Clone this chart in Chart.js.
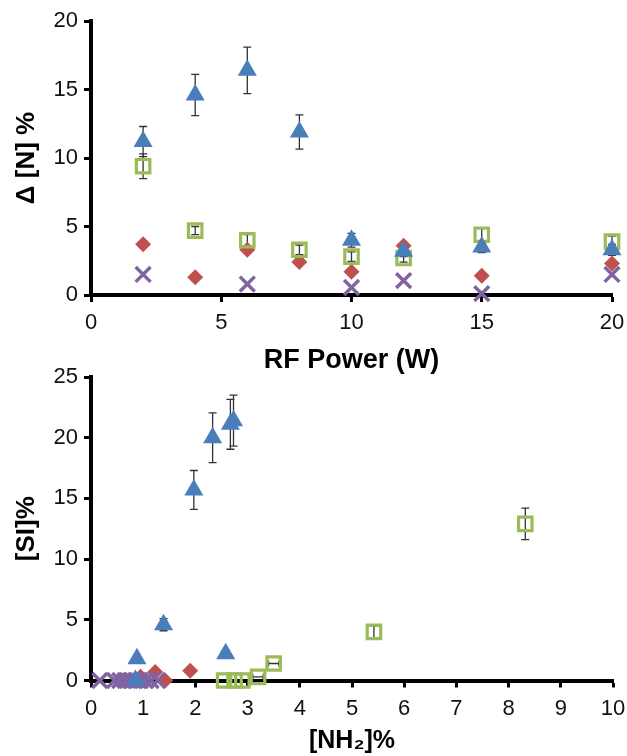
<!DOCTYPE html>
<html>
<head>
<meta charset="utf-8">
<script src="https://cdn.jsdelivr.net/npm/chart.js@4.4.0/dist/chart.umd.min.js"></script>
<style>
  html, body { margin: 0; padding: 0; background: #fff; }
  #wrap { position: relative; width: 627px; height: 756px; overflow: hidden; }
  canvas { position: absolute; left: 0; }
</style>
</head>
<body>
<div id="wrap">
  <canvas id="topChart" width="627" height="380" style="top:0;width:627px;height:380px"></canvas>
  <canvas id="bottomChart" width="627" height="394" style="top:362px;width:627px;height:394px"></canvas>
</div>
<script>
// top panel: change in [N] vs RF power
const powerW = [2, 4, 6, 8, 10, 12, 15, 20];
const triDeltaN = [11.2, 14.6, 16.4, 11.9, 4.0, 3.2, 3.5, 3.3];
const triDeltaNErr = [1.1, 1.5, 1.7, 1.25, 0.5, 0.4, 0.4, 0.4];
const sqDeltaN = [9.4, 4.7, 4.0, 3.3, 2.8, 2.7, 4.4, 3.9];
const sqDeltaNErr = [0.9, 0.3, 0.4, 0.35, 0.35, 0.3, 0.45, 0.4];
const diaDeltaN = [3.7, 1.3, 3.3, 2.4, 1.7, 3.6, 1.4, 2.3];
const powerCross = [2, 6, 10, 12, 15, 20];
const crossDeltaN = [1.5, 0.8, 0.55, 1.05, 0.1, 1.5];
const powerTicks = [0, 5, 10, 15, 20];
const deltaNTicks = [0, 5, 10, 15, 20];

// bottom panel: [SI] vs [NH2]
const nh2Tri = [0.85, 0.88, 1.39, 1.97, 2.33, 2.58, 2.67, 2.73];
const siTri = [0, 1.8, 4.6, 15.7, 20.0, 2.2, 21.1, 21.4];
const siTriErr = [0, 0, 0.5, 1.6, 2.05, 0.3, 2.05, 2.1];
const nh2Sq = [2.55, 2.75, 2.9, 3.2, 3.5, 5.42, 8.32];
const siSq = [0, 0, 0, 0.3, 1.4, 4.0, 12.9];
const siSqErr = [0, 0, 0, 0, 0, 0.5, 1.3];
const nh2SqErr = [0, 0, 0, 0.1, 0.1, 0, 0];
const nh2Dia = [0.95, 1.23, 1.42, 1.9];
const siDia = [0.3, 0.7, 0, 0.8];
const nh2Cross = [0.17, 0.45, 0.55, 0.65, 0.75, 0.85, 0.95, 1.05, 1.15, 1.28];
const siCross = [0, 0, 0, 0, 0, 0, 0, 0, 0, 0];
const nh2Ticks = [0, 1, 2, 3, 4, 5, 6, 7, 8, 9, 10];
const siTicks = [0, 5, 10, 15, 20, 25];

const BLUE = '#4a7ebb', RED = '#c0504d', GREEN = '#9bbb59', PURPLE = '#8064a2';
const FONT = 'Liberation Sans, Arial, sans-serif';

const pts = (xs, ys) => xs.map((x, i) => ({ x: x, y: ys[i] }));

// draws vertical / horizontal error bars from dataset.yErr / dataset.xErr
const errorBars = {
  id: 'errorBars',
  beforeDatasetsDraw(chart) {
    const ctx = chart.ctx;
    const xs = chart.scales.x, ys = chart.scales.y;
    ctx.save();
    ctx.strokeStyle = '#333';
    ctx.lineWidth = 1.3;
    chart.data.datasets.forEach(ds => {
      ds.data.forEach((p, i) => {
        const px = xs.getPixelForValue(p.x), py = ys.getPixelForValue(p.y);
        const ey = ds.yErr ? ds.yErr[i] : 0;
        const ex = ds.xErr ? ds.xErr[i] : 0;
        ctx.beginPath();
        if (ey > 0) {
          const t = ys.getPixelForValue(p.y + ey), b = ys.getPixelForValue(p.y - ey);
          ctx.moveTo(px, t); ctx.lineTo(px, b);
          ctx.moveTo(px - 4, t); ctx.lineTo(px + 4, t);
          ctx.moveTo(px - 4, b); ctx.lineTo(px + 4, b);
        }
        if (ex > 0) {
          const l = xs.getPixelForValue(p.x - ex), r = xs.getPixelForValue(p.x + ex);
          ctx.moveTo(l, py); ctx.lineTo(r, py);
          ctx.moveTo(l, py - 3); ctx.lineTo(l, py + 3);
          ctx.moveTo(r, py - 3); ctx.lineTo(r, py + 3);
        }
        ctx.stroke();
      });
    });
    ctx.restore();
  }
};

function axes(xTicks, yTicks, xTitle, yTitle, xHeight, xTitlePad, xTitleSize) {
  const tickFont = { family: FONT, size: 22 };
  const grid = { display: true, drawOnChartArea: false, drawTicks: true, tickLength: 7, tickWidth: 3, tickColor: '#000' };
  return {
    x: {
      type: 'linear', min: xTicks[0], max: xTicks[xTicks.length - 1],
      afterBuildTicks: s => { s.ticks = xTicks.map(v => ({ value: v })); },
      ticks: { font: tickFont, color: '#111', padding: 8, maxRotation: 0 },
      grid: grid,
      border: { display: true, color: '#000', width: 4 },
      title: { display: true, text: xTitle, color: '#000', font: { family: FONT, size: xTitleSize, weight: 'bold' }, padding: { top: 0, bottom: xTitlePad } },
      afterFit: s => { s.height = xHeight; s.paddingLeft = 0; s.paddingRight = 0; }
    },
    y: {
      type: 'linear', min: yTicks[0], max: yTicks[yTicks.length - 1],
      afterBuildTicks: s => { s.ticks = yTicks.map(v => ({ value: v })); },
      ticks: { font: tickFont, color: '#111', padding: 6 },
      grid: grid,
      border: { display: true, color: '#000', width: 4 },
      title: { display: true, text: yTitle, color: '#000', font: { family: FONT, size: 26, weight: 'bold' }, padding: { top: 11, bottom: 0 } },
      afterFit: s => { s.width = 91; s.paddingTop = 0; s.paddingBottom = 0; }
    }
  };
}

function series(data, style, color, radius, extra) {
  const filled = style !== 'rect' && style !== 'crossRot';
  return Object.assign({
    data: data,
    pointStyle: style,
    pointRadius: radius,
    pointHoverRadius: radius,
    pointBackgroundColor: filled ? color : 'rgba(0,0,0,0)',
    pointBorderColor: color,
    pointBorderWidth: style === 'rect' ? 3.2 : (style === 'crossRot' ? 3.5 : 0),
    showLine: false,
    clip: false
  }, extra || {});
}

new Chart(document.getElementById('topChart'), {
  type: 'scatter',
  data: {
    datasets: [
      series(pts(powerW, triDeltaN), 'triangle', BLUE, 11, { yErr: triDeltaNErr }),
      series(pts(powerW, sqDeltaN), 'rect', GREEN, 9.5, { yErr: sqDeltaNErr }),
      series(pts(powerW, diaDeltaN), 'rectRot', RED, 8),
      series(pts(powerCross, crossDeltaN), 'crossRot', PURPLE, 10.5)
    ]
  },
  options: {
    responsive: false,
    animation: false,
    layout: { padding: { top: 21, right: 15, left: 0, bottom: 0 } },
    plugins: { legend: { display: false }, tooltip: { enabled: false } },
    scales: axes(powerTicks, deltaNTicks, 'RF Power (W)', '\u0394 [N] %', 85, 3, 27)
  },
  plugins: [errorBars]
});

new Chart(document.getElementById('bottomChart'), {
  type: 'scatter',
  data: {
    datasets: [
      series(pts(nh2Tri, siTri), 'triangle', BLUE, 11, { yErr: siTriErr }),
      series(pts(nh2Sq, siSq), 'rect', GREEN, 9.5, { yErr: siSqErr, xErr: nh2SqErr }),
      series(pts(nh2Cross, siCross), 'crossRot', PURPLE, 10.5),
      series(pts(nh2Dia, siDia), 'rectRot', RED, 8)
    ]
  },
  options: {
    responsive: false,
    animation: false,
    layout: { padding: { top: 15, right: 12, left: 0, bottom: 0 } },
    plugins: { legend: { display: false }, tooltip: { enabled: false } },
    scales: axes(nh2Ticks, siTicks, '[NH\u2082]%', '[SI]%', 75.5, 0, 25)
  },
  plugins: [errorBars]
});
</script>
</body>
</html>
